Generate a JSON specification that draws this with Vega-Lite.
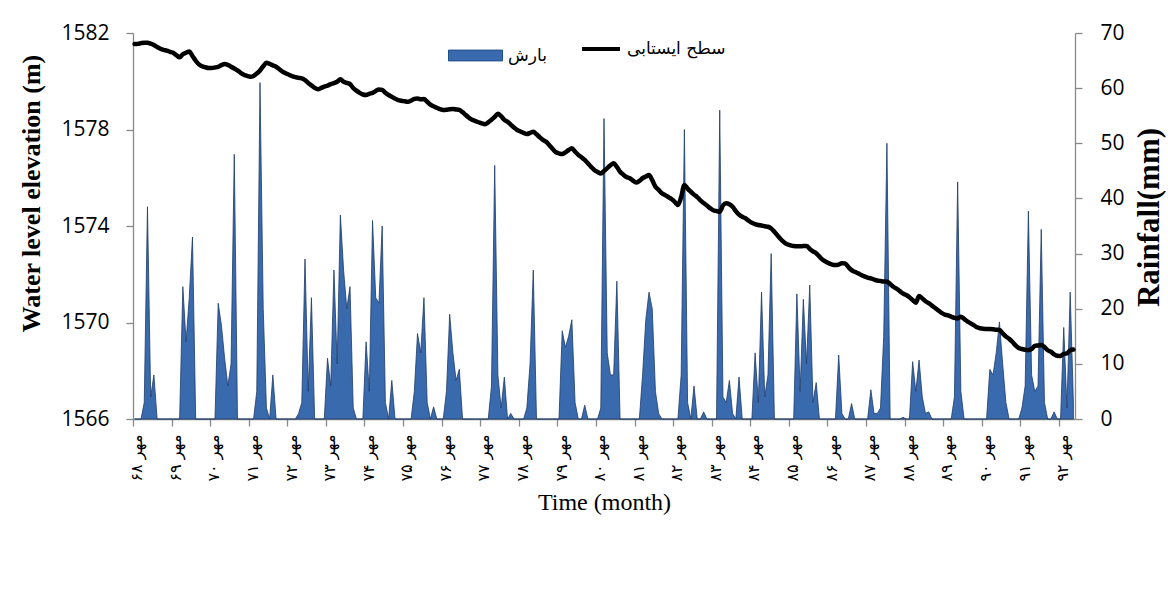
{
"$schema": "https://vega.github.io/schema/vega-lite/v6.json",
"width": 942, "height": 386,
"autosize": {"type": "none"},
"padding": {"left": 133, "top": 33, "right": 93, "bottom": 177},
"background": "white",
"config": {"view": {"stroke": null}, "axis": {"grid": false, "domainColor": "#898989", "tickColor": "#898989", "domainWidth": 1.3, "tickWidth": 1.3, "tickSize": 7, "labelColor": "#000000", "titleColor": "#000000"}},
"data": {"values": [
{"m":0,"r":0,"h":1581.54},{"m":1,"r":0,"h":1581.55},{"m":2,"r":0,"h":1581.58},{"m":3,"r":3,"h":1581.60},{"m":4,"r":38.5,"h":1581.60},{"m":5,"r":4,"h":1581.56},{"m":6,"r":8,"h":1581.50},{"m":7,"r":0,"h":1581.42},{"m":8,"r":0,"h":1581.35},{"m":9,"r":0,"h":1581.30},{"m":10,"r":0,"h":1581.27},{"m":11,"r":0,"h":1581.22},
{"m":12,"r":0,"h":1581.18},{"m":13,"r":0,"h":1581.08},{"m":14,"r":0,"h":1580.99},{"m":15,"r":24,"h":1581.12},{"m":16,"r":14,"h":1581.18},{"m":17,"r":22,"h":1581.23},{"m":18,"r":33,"h":1581.05},{"m":19,"r":0,"h":1580.85},{"m":20,"r":0,"h":1580.70},{"m":21,"r":0,"h":1580.62},{"m":22,"r":0,"h":1580.58},{"m":23,"r":0,"h":1580.55},
{"m":24,"r":0,"h":1580.55},{"m":25,"r":0,"h":1580.57},{"m":26,"r":21,"h":1580.60},{"m":27,"r":17,"h":1580.67},{"m":28,"r":11,"h":1580.72},{"m":29,"r":6,"h":1580.68},{"m":30,"r":10,"h":1580.60},{"m":31,"r":48,"h":1580.53},{"m":32,"r":0,"h":1580.45},{"m":33,"r":0,"h":1580.35},{"m":34,"r":0,"h":1580.27},{"m":35,"r":0,"h":1580.22},
{"m":36,"r":0,"h":1580.19},{"m":37,"r":0,"h":1580.22},{"m":38,"r":5,"h":1580.32},{"m":39,"r":61,"h":1580.45},{"m":40,"r":20,"h":1580.62},{"m":41,"r":2,"h":1580.77},{"m":42,"r":0,"h":1580.72},{"m":43,"r":8,"h":1580.66},{"m":44,"r":0,"h":1580.60},{"m":45,"r":0,"h":1580.50},{"m":46,"r":0,"h":1580.40},{"m":47,"r":0,"h":1580.33},
{"m":48,"r":0,"h":1580.27},{"m":49,"r":0,"h":1580.21},{"m":50,"r":0,"h":1580.17},{"m":51,"r":1,"h":1580.14},{"m":52,"r":3,"h":1580.12},{"m":53,"r":29,"h":1580.05},{"m":54,"r":5,"h":1579.93},{"m":55,"r":22,"h":1579.83},{"m":56,"r":0,"h":1579.73},{"m":57,"r":0,"h":1579.67},{"m":58,"r":0,"h":1579.72},{"m":59,"r":0,"h":1579.78},
{"m":60,"r":11,"h":1579.82},{"m":61,"r":6,"h":1579.88},{"m":62,"r":27,"h":1579.92},{"m":63,"r":10,"h":1579.98},{"m":64,"r":37,"h":1580.08},{"m":65,"r":27,"h":1579.98},{"m":66,"r":20,"h":1579.93},{"m":67,"r":24,"h":1579.88},{"m":68,"r":2,"h":1579.72},{"m":69,"r":0,"h":1579.61},{"m":70,"r":0,"h":1579.52},{"m":71,"r":0,"h":1579.45},
{"m":72,"r":14,"h":1579.43},{"m":73,"r":5,"h":1579.48},{"m":74,"r":36,"h":1579.52},{"m":75,"r":22,"h":1579.60},{"m":76,"r":21,"h":1579.66},{"m":77,"r":35,"h":1579.64},{"m":78,"r":3,"h":1579.52},{"m":79,"r":0,"h":1579.43},{"m":80,"r":7,"h":1579.36},{"m":81,"r":0,"h":1579.28},{"m":82,"r":0,"h":1579.22},{"m":83,"r":0,"h":1579.19},
{"m":84,"r":0,"h":1579.17},{"m":85,"r":0,"h":1579.15},{"m":86,"r":0,"h":1579.20},{"m":87,"r":5,"h":1579.27},{"m":88,"r":15.5,"h":1579.29},{"m":89,"r":12,"h":1579.25},{"m":90,"r":22,"h":1579.26},{"m":91,"r":3,"h":1579.15},{"m":92,"r":0,"h":1579.03},{"m":93,"r":2.2,"h":1578.96},{"m":94,"r":0,"h":1578.90},{"m":95,"r":0,"h":1578.84},
{"m":96,"r":0,"h":1578.81},{"m":97,"r":5,"h":1578.82},{"m":98,"r":19,"h":1578.84},{"m":99,"r":12,"h":1578.85},{"m":100,"r":7,"h":1578.83},{"m":101,"r":9,"h":1578.81},{"m":102,"r":0,"h":1578.72},{"m":103,"r":0,"h":1578.60},{"m":104,"r":0,"h":1578.49},{"m":105,"r":0,"h":1578.40},{"m":106,"r":0,"h":1578.35},{"m":107,"r":0,"h":1578.30},
{"m":108,"r":0,"h":1578.25},{"m":109,"r":0,"h":1578.22},{"m":110,"r":0,"h":1578.30},{"m":111,"r":6,"h":1578.40},{"m":112,"r":46,"h":1578.52},{"m":113,"r":8,"h":1578.65},{"m":114,"r":2,"h":1578.55},{"m":115,"r":7.6,"h":1578.40},{"m":116,"r":0,"h":1578.32},{"m":117,"r":1,"h":1578.20},{"m":118,"r":0,"h":1578.08},{"m":119,"r":0,"h":1577.98},
{"m":120,"r":0,"h":1577.92},{"m":121,"r":0,"h":1577.86},{"m":122,"r":2,"h":1577.81},{"m":123,"r":10,"h":1577.86},{"m":124,"r":27,"h":1577.91},{"m":125,"r":0,"h":1577.80},{"m":126,"r":0,"h":1577.68},{"m":127,"r":0,"h":1577.57},{"m":128,"r":0,"h":1577.49},{"m":129,"r":0,"h":1577.35},{"m":130,"r":0,"h":1577.20},{"m":131,"r":0,"h":1577.06},
{"m":132,"r":0,"h":1577.01},{"m":133,"r":16,"h":1576.98},{"m":134,"r":13,"h":1577.05},{"m":135,"r":15,"h":1577.15},{"m":136,"r":18,"h":1577.22},{"m":137,"r":3,"h":1577.08},{"m":138,"r":0,"h":1576.95},{"m":139,"r":0,"h":1576.85},{"m":140,"r":2.5,"h":1576.74},{"m":141,"r":0,"h":1576.60},{"m":142,"r":0,"h":1576.45},{"m":143,"r":0,"h":1576.32},
{"m":144,"r":0,"h":1576.24},{"m":145,"r":2,"h":1576.18},{"m":146,"r":54.5,"h":1576.28},{"m":147,"r":12,"h":1576.40},{"m":148,"r":8,"h":1576.52},{"m":149,"r":8,"h":1576.60},{"m":150,"r":25,"h":1576.45},{"m":151,"r":0,"h":1576.25},{"m":152,"r":0,"h":1576.13},{"m":153,"r":0,"h":1576.03},{"m":154,"r":0,"h":1575.98},{"m":155,"r":0,"h":1575.88},
{"m":156,"r":0,"h":1575.80},{"m":157,"r":0,"h":1575.87},{"m":158,"r":8,"h":1575.98},{"m":159,"r":18,"h":1576.05},{"m":160,"r":23,"h":1576.11},{"m":161,"r":20,"h":1575.90},{"m":162,"r":5,"h":1575.63},{"m":163,"r":1,"h":1575.50},{"m":164,"r":0,"h":1575.36},{"m":165,"r":0,"h":1575.28},{"m":166,"r":0,"h":1575.20},{"m":167,"r":0,"h":1575.12},
{"m":168,"r":0,"h":1575.00},{"m":169,"r":0,"h":1574.87},{"m":170,"r":8,"h":1575.20},{"m":171,"r":52.5,"h":1575.70},{"m":172,"r":3,"h":1575.55},{"m":173,"r":0,"h":1575.42},{"m":174,"r":6,"h":1575.30},{"m":175,"r":0,"h":1575.20},{"m":176,"r":0,"h":1575.06},{"m":177,"r":1.3,"h":1574.95},{"m":178,"r":0,"h":1574.85},{"m":179,"r":0,"h":1574.74},
{"m":180,"r":0,"h":1574.65},{"m":181,"r":0,"h":1574.62},{"m":182,"r":56,"h":1574.59},{"m":183,"r":4,"h":1574.85},{"m":184,"r":3,"h":1574.94},{"m":185,"r":7,"h":1574.90},{"m":186,"r":1,"h":1574.80},{"m":187,"r":0,"h":1574.62},{"m":188,"r":7.6,"h":1574.47},{"m":189,"r":0,"h":1574.38},{"m":190,"r":0,"h":1574.32},{"m":191,"r":0,"h":1574.22},
{"m":192,"r":0,"h":1574.13},{"m":193,"r":12,"h":1574.08},{"m":194,"r":3,"h":1574.04},{"m":195,"r":23,"h":1574.02},{"m":196,"r":4,"h":1573.99},{"m":197,"r":8,"h":1573.97},{"m":198,"r":30,"h":1573.90},{"m":199,"r":0,"h":1573.76},{"m":200,"r":0,"h":1573.60},{"m":201,"r":0,"h":1573.45},{"m":202,"r":0,"h":1573.33},{"m":203,"r":0,"h":1573.24},
{"m":204,"r":0,"h":1573.20},{"m":205,"r":0,"h":1573.17},{"m":206,"r":22.7,"h":1573.16},{"m":207,"r":5,"h":1573.16},{"m":208,"r":21.7,"h":1573.17},{"m":209,"r":10,"h":1573.17},{"m":210,"r":24.3,"h":1573.05},{"m":211,"r":3,"h":1572.95},{"m":212,"r":6.6,"h":1572.87},{"m":213,"r":0,"h":1572.73},{"m":214,"r":0,"h":1572.60},{"m":215,"r":0,"h":1572.52},
{"m":216,"r":0,"h":1572.45},{"m":217,"r":0,"h":1572.40},{"m":218,"r":0,"h":1572.38},{"m":219,"r":11.6,"h":1572.40},{"m":220,"r":1,"h":1572.46},{"m":221,"r":0,"h":1572.45},{"m":222,"r":0,"h":1572.30},{"m":223,"r":2.8,"h":1572.17},{"m":224,"r":0,"h":1572.10},{"m":225,"r":0,"h":1572.04},{"m":226,"r":0,"h":1571.97},{"m":227,"r":0,"h":1571.91},
{"m":228,"r":0,"h":1571.86},{"m":229,"r":5.3,"h":1571.83},{"m":230,"r":1,"h":1571.78},{"m":231,"r":1,"h":1571.74},{"m":232,"r":2,"h":1571.72},{"m":233,"r":15,"h":1571.70},{"m":234,"r":50,"h":1571.69},{"m":235,"r":0,"h":1571.60},{"m":236,"r":0,"h":1571.48},{"m":237,"r":0,"h":1571.40},{"m":238,"r":0,"h":1571.30},{"m":239,"r":0.3,"h":1571.20},
{"m":240,"r":0,"h":1571.14},{"m":241,"r":0,"h":1571.05},{"m":242,"r":10.4,"h":1570.93},{"m":243,"r":5,"h":1570.82},{"m":244,"r":10.7,"h":1571.10},{"m":245,"r":4,"h":1571.00},{"m":246,"r":1,"h":1570.88},{"m":247,"r":1.3,"h":1570.80},{"m":248,"r":0,"h":1570.70},{"m":249,"r":0,"h":1570.60},{"m":250,"r":0,"h":1570.50},{"m":251,"r":0,"h":1570.40},
{"m":252,"r":0,"h":1570.33},{"m":253,"r":0,"h":1570.30},{"m":254,"r":0,"h":1570.24},{"m":255,"r":4,"h":1570.19},{"m":256,"r":43,"h":1570.17},{"m":257,"r":5,"h":1570.24},{"m":258,"r":0,"h":1570.15},{"m":259,"r":0,"h":1570.05},{"m":260,"r":0,"h":1569.97},{"m":261,"r":0,"h":1569.89},{"m":262,"r":0,"h":1569.80},{"m":263,"r":0,"h":1569.76},
{"m":264,"r":0,"h":1569.74},{"m":265,"r":0,"h":1569.73},{"m":266,"r":9,"h":1569.73},{"m":267,"r":8,"h":1569.72},{"m":268,"r":12,"h":1569.70},{"m":269,"r":17.6,"h":1569.69},{"m":270,"r":10,"h":1569.55},{"m":271,"r":3,"h":1569.42},{"m":272,"r":0,"h":1569.33},{"m":273,"r":0,"h":1569.20},{"m":274,"r":0,"h":1569.05},{"m":275,"r":0,"h":1568.94},
{"m":276,"r":2,"h":1568.90},{"m":277,"r":6,"h":1568.87},{"m":278,"r":37.7,"h":1568.86},{"m":279,"r":8,"h":1568.90},{"m":280,"r":5,"h":1569.03},{"m":281,"r":6,"h":1569.05},{"m":282,"r":34.4,"h":1569.07},{"m":283,"r":3,"h":1568.98},{"m":284,"r":0,"h":1568.85},{"m":285,"r":0,"h":1568.79},{"m":286,"r":1.3,"h":1568.68},{"m":287,"r":0,"h":1568.62},
{"m":288,"r":0,"h":1568.61},{"m":289,"r":16.6,"h":1568.70},{"m":290,"r":2,"h":1568.72},{"m":291,"r":23,"h":1568.85},{"m":292,"r":3,"h":1568.88}
]},
"encoding": {
  "x": {"field": "m", "type": "quantitative", "scale": {"domain": [-0.5, 292.5], "nice": false, "zero": false},
    "axis": {"values": [0,12,24,36,48,60,72,84,96,108,120,132,144,156,168,180,192,204,216,228,240,252,264,276,288],
      "tickOffset": -1.6, "labelOffset": 3.7, "labelAngle": 270, "labelAlign": "right", "labelBaseline": "middle",
      "labelExpr": "'مهر ' + ['۶۸','۶۹','۷۰','۷۱','۷۲','۷۳','۷۴','۷۵','۷۶','۷۷','۷۸','۷۹','۸۰','۸۱','۸۲','۸۳','۸۴','۸۵','۸۶','۸۷','۸۸','۸۹','۹۰','۹۱','۹۲'][round(datum.value/12)]",
      "labelFont": "DejaVu Sans", "labelFontSize": 16, "labelPadding": 8, "labelOverlap": false, "labelFlush": false,
      "title": "Time (month)", "titleFont": "Liberation Serif", "titleFontSize": 24, "titleFontWeight": "normal", "titlePadding": 9}}
},
"layer": [
  {"mark": {"type": "area", "interpolate": "linear", "stroke": "#1d3b69", "strokeWidth": 0.8},
   "encoding": {
     "y": {"field": "r", "type": "quantitative", "scale": {"domain": [0, 70], "nice": false},
       "axis": {"orient": "right", "values": [0,10,20,30,40,50,60,70], "format": "d", "labelFont": "Open Sans", "labelFontSize": 21, "labelPadding": 18,
         "title": "Rainfall(mm)", "titleFont": "Liberation Serif", "titleFontSize": 31, "titleFontWeight": "bold", "titleAngle": 270, "titleBaseline": "top", "titlePadding": 10, "titleY": 184}},
     "fill": {"datum": "بارش", "type": "nominal", "scale": {"range": ["#3a6aae"]},
       "legend": {"title": null, "orient": "none", "legendX": 315, "legendY": -5, "padding": 0, "symbolType": "M-1,-0.2H1V0.2H-1Z", "symbolSize": 2916, "symbolStrokeColor": "#1f4e8c", "symbolStrokeWidth": 1, "labelFont": "DejaVu Sans", "labelFontSize": 17, "labelOffset": 5, "labelColor": "#000000"}}
   }},
  {"mark": {"type": "line", "interpolate": "monotone", "strokeWidth": 4.5, "strokeCap": "round", "strokeJoin": "round"},
   "encoding": {
     "y": {"field": "h", "type": "quantitative", "scale": {"domain": [1566, 1582], "nice": false, "zero": false},
       "axis": {"orient": "left", "values": [1566,1570,1574,1578,1582], "format": "d", "labelFont": "Open Sans", "labelFontSize": 21, "labelPadding": 17,
         "title": "Water level elevation (m)", "titleFont": "Liberation Serif", "titleFontSize": 26, "titleFontWeight": "bold", "titlePadding": 16, "titleY": 160}},
     "stroke": {"datum": "سطح ایستابی", "type": "nominal", "scale": {"range": ["#000000"]},
       "legend": {"title": null, "orient": "none", "legendX": 447, "legendY": -5, "padding": 0, "symbolType": "stroke", "symbolSize": 1444, "symbolStrokeWidth": 4, "labelFont": "DejaVu Sans", "labelFontSize": 17, "labelOffset": 5, "labelColor": "#000000"}}
   }}
],
"resolve": {"scale": {"y": "independent", "fill": "independent", "stroke": "independent"}}
}
